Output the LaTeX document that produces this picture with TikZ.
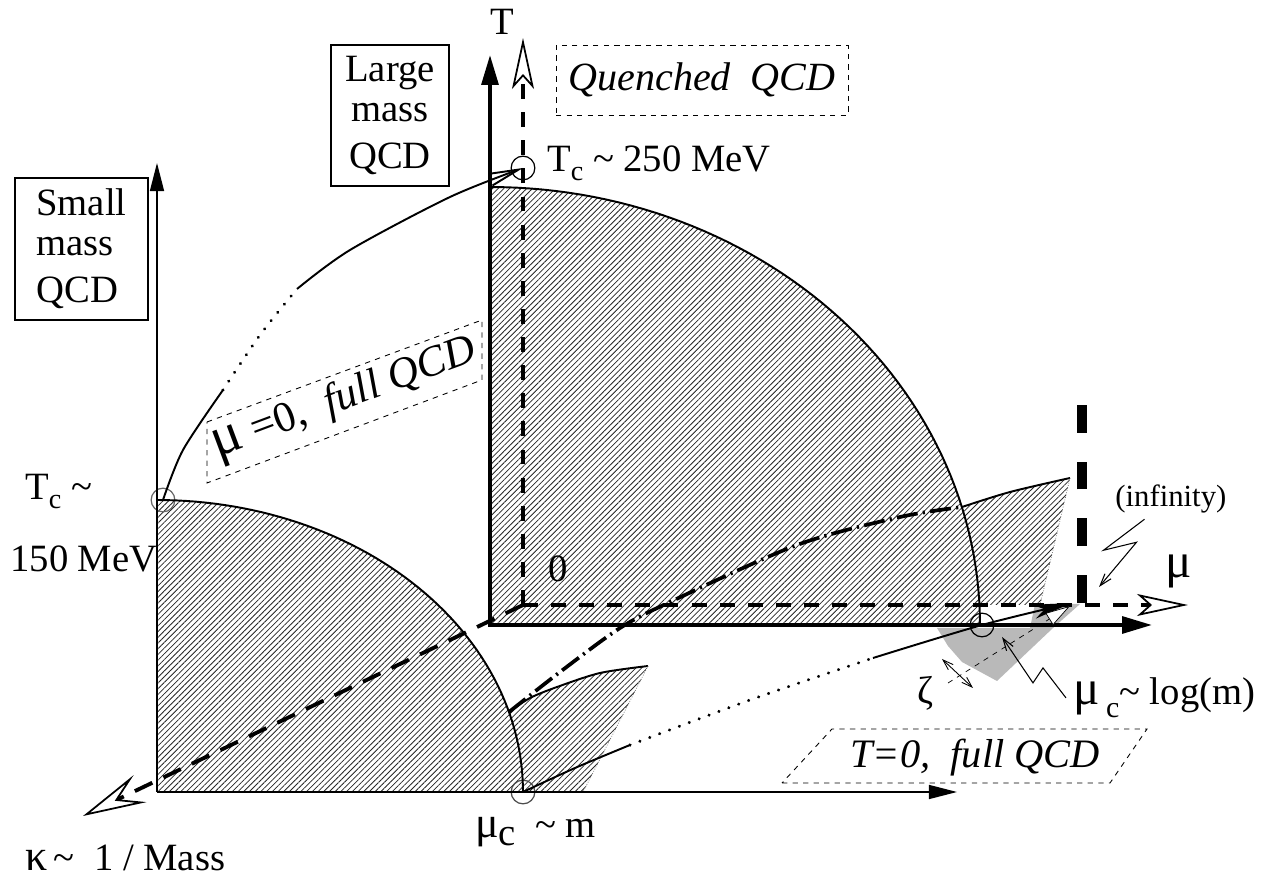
\documentclass[tikz,border=0pt]{standalone}
\usepackage{fontspec}
\setmainfont{Liberation Serif}
\usetikzlibrary{arrows.meta,patterns.meta}

\newcommand{\lowc}[2]{\raisebox{-#2}{\fontsize{#1}{#1}\selectfont c}}
\newcommand{\gr}[2]{{\fontsize{#1}{#1}\selectfont #2}}

\begin{document}
\begin{tikzpicture}[x=0.02cm,y=-0.02cm,
  lab/.style={font=\fontsize{22}{22.7}\selectfont,inner sep=0pt},
  smalllab/.style={font=\fontsize{17.5}{18}\selectfont,inner sep=0pt},
  hatch/.style={pattern={Lines[angle=45,distance=2.3pt,line width=0.45pt]},pattern color=black!85},
  curve/.style={line width=1.1pt},
  dotline/.style={line width=1.9pt,dash pattern=on 0.01pt off 6pt,line cap=round},
  thickaxis/.style={line width=2.2pt,line cap=rect,-{Triangle[length=17pt,width=9.5pt]}},
  thinaxis/.style={line width=0.8pt,-{Triangle[length=16pt,width=8pt]}},
  bigdash/.style={line width=2.2pt,dash pattern=on 8.5pt off 7.5pt},
  openhead/.style={-{Stealth[open,fill=white,length=29pt,width=12.5pt,inset=7pt,line width=1pt]}},
  dashdot/.style={line width=2.1pt,dash pattern=on 12pt off 3pt on 1.2pt off 3pt},
  bolt/.style={line width=0.6pt,-{Straight Barb[length=7pt,width=4.5pt]}},
  ring/.style={circle,draw,line width=0.7pt,minimum size=13.5pt,inner sep=0pt},
  massbox/.style={draw,line width=0.6pt,minimum width=2.36cm,minimum height=2.82cm,inner sep=0pt}]
  \useasboundingbox (0,0) rectangle (1269,881);

  % hatched phases
  \fill[hatch] (157,792) -- plot[domain=90:0,samples=50] ({157+366*cos(\x)},{792-292*sin(\x)}) -- cycle;
  \fill[hatch] (490,625) -- plot[domain=90:0,samples=50] ({490+490*cos(\x)},{625-438*sin(\x)}) -- cycle;
  \fill[hatch] plot[smooth] coordinates {(509,712) (530,698) (557,687) (600,673) (648,666)} -- (583,792) -- (523,792)
    -- plot[domain=0:15.9,samples=12] ({157+366*cos(\x)},{792-292*sin(\x)}) -- cycle;
  \fill[hatch] plot[smooth] coordinates {(962,507) (1010,492) (1070,478)} -- (1040,605) -- (980,605)
    -- plot[domain=2.6:15.6,samples=12] ({490+490*cos(\x)},{625-438*sin(\x)}) -- cycle;
  \fill[gray!55] (937,628) -- (948,646) -- (962,662) -- (997,681) -- (1053,628) -- (1080,604) -- (1035,604) -- (1030,628) -- cycle;

  % rings
  \node[ring,draw=black!60] (tcf) at (163,500) {};
  \node[ring] (tcb) at (523,168) {};
  \node[ring,draw=black!70] (muf) at (523,792) {};
  \node[ring] (mub) at (982,625) {};

  % phase boundaries
  \draw[curve] plot[domain=90:0,samples=60] ({157+366*cos(\x)},{792-292*sin(\x)});
  \draw[curve] plot[domain=90:0,samples=60] ({490+490*cos(\x)},{625-438*sin(\x)});
  \draw[curve] plot[smooth] coordinates {(509,712) (530,698) (557,687) (600,673) (648,666)};
  \draw[curve] plot[smooth] coordinates {(962,507) (1010,492) (1070,478)};
  \draw[densely dotted,black!60,thin] (648,666) -- (583,792);
  \draw[densely dotted,black!60,thin] (1070,478) -- (1040,605);

  % axes
  \draw[thinaxis] (157,792) -- (157,163);
  \draw[thinaxis] (157,792) -- (957,792);
  \draw[thickaxis] (490,625) -- (490,55);
  \draw[thickaxis] (490,625) -- (1152,625);
  \draw[bigdash,openhead] (523,605) -- (523,38);
  \draw[bigdash,openhead] (523,605) -- (1188,605);
  \draw[line width=2.2pt,dash pattern=on 11pt off 7pt,-{Stealth[open,fill=white,length=36pt,width=17pt,inset=14pt,line width=1pt]}] (523,605) -- (83,816);
  \draw[line width=6.2pt,dash pattern=on 15.9pt off 16.4pt] (1082,603) -- (1082,405);

  % critical lines
  \draw[dashdot] plot[smooth] coordinates {(509,712) (560,672) (620,628) (670,602) (797,545) (900,517) (962,507)};
  \draw[curve] plot[smooth] coordinates {(muf.center) (575,768) (630,745)};
  \draw[dotline] plot[smooth] coordinates {(630,745) (750,700) (873,658)};
  \draw[curve,-{Stealth[length=22pt,width=8pt,inset=6pt]}] plot[smooth] coordinates {(873,658) (mub.center) (1072,603)};
  \draw[curve] plot[smooth] coordinates {(tcf.center) (183,450) (223,390)};
  \draw[dotline] plot[smooth] coordinates {(223,390) (260,335) (297,289)};
  \draw[curve,-{Straight Barb[length=17pt,width=7pt]}] plot[smooth] coordinates {(297,289) (350,250) (450,197) (tcb.center)};
  \draw[thin,dashed,-{Triangle[open,fill=white,length=14pt,width=8pt]}] (948,683) -- (1070,606);
  \coordinate (zA) at (942,659);
  \coordinate (zB) at (973,688);
  \draw[line width=0.5pt,{Straight Barb[length=6pt,width=4pt]}-{Straight Barb[length=6pt,width=4pt]}] (zA) -- (zB);

  % boxes
  \node[massbox,align=center,lab] (large) at (390,115.5) {Large\\mass\\[4pt]QCD};
  \node[massbox,minimum width=2.66cm,minimum height=2.84cm,align=left,lab] (small) at (81.5,249) {Small\\mass\\[4pt]QCD};
  \node[draw,dashed,line width=0.5pt,minimum width=5.84cm,minimum height=1.4cm,lab,font=\fontsize{22.8}{24}\selectfont] (quenched) at (702,80) {\textit{Quenched\ \ QCD}};
  \draw[dashed,line width=0.5pt] (207,422) -- (482,320) -- (482,380) -- (207,483) -- cycle;
  \node[lab,font=\fontsize{24.5}{26}\selectfont,rotate=20.5] (mu0) at (345,400) {\gr{32}{μ}\ =0,\ \ \textit{full QCD}};
  \draw[dashed,line width=0.5pt] (782,783) -- (1110,783) -- (1147,729) -- (832,729) -- cycle;
  \node[lab,font=\fontsize{23}{24}\selectfont,anchor=base west] (T0) at (850,768) {\textit{T=0,\ \ full QCD}};

  % labels
  \node[lab,anchor=base] (T) at (502,35) {T};
  \node[lab,anchor=base west] (tc250) at (547,172) {T\lowc{16pt}{5pt} \textasciitilde{} 250 MeV};
  \node[lab,anchor=base west] (tc150a) at (25,500) {T\lowc{16pt}{5pt} \textasciitilde};
  \node[lab,anchor=base west] (tc150b) at (10,572) {150 MeV};
  \node[lab,anchor=base] (zero) at (558,582) {0};
  \node[lab,anchor=base west] (mu) at (1165,578) {\gr{28}{μ}};
  \node[smalllab,anchor=base west] (inf) at (1115,507) {(infinity)};
  \node[lab] (zeta) at (925,693) {ζ};
  \node[lab,anchor=base west] (mucl) at (1073,705) {\gr{28}{μ}\,\lowc{17pt}{7pt}\textasciitilde{} log(m)};
  \node[lab,anchor=base west] (mucm) at (475,838) {\gr{25}{μ}\lowc{22pt}{4pt}\ \ \textasciitilde{} m};
  \node[lab,anchor=base west] (kappa) at (25,871) {\gr{25}{κ}\,\textasciitilde\ \ 1 / Mass};

  % pointers
  \coordinate (infend) at (1099,587);
  \draw[bolt] ([xshift=-15pt,yshift=-3pt]inf.south) -- ++(-41,31) -- ++(33,-8) -- (infend);
  \coordinate (mucend) at (1002,637);
  \draw[bolt] ([xshift=-4pt]mucl.west) -- ++(-23,-30) -- ++(-10,15) -- (mucend);
\end{tikzpicture}
\end{document}
